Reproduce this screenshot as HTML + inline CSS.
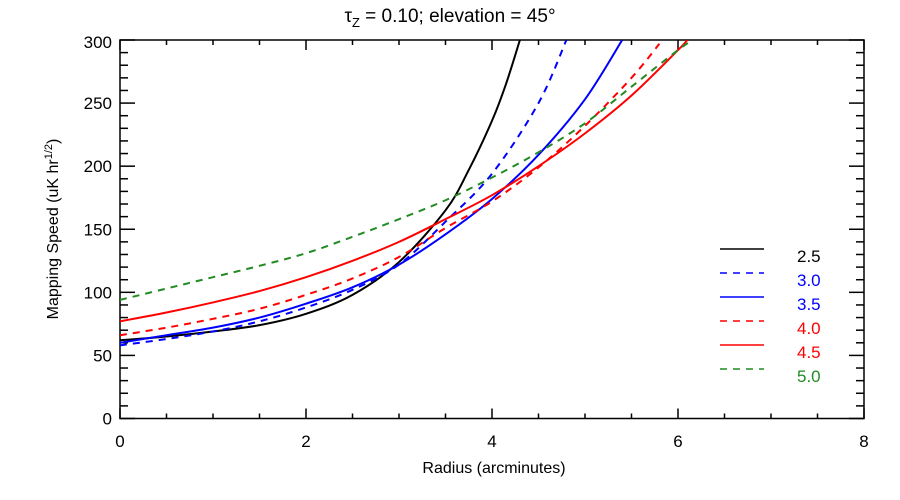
<!DOCTYPE html>
<html><head><meta charset="utf-8"><style>
body{margin:0;background:#fff;}
svg{display:block;font-family:"Liberation Sans","DejaVu Sans",sans-serif;}
</style></head><body>
<svg id="chart" width="900" height="500" viewBox="0 0 900 500">
<text x="450" y="22" text-anchor="middle" font-size="19">τ<tspan font-size="13" dy="5">Z</tspan><tspan dy="-5"> = 0.10; elevation = 45°</tspan></text>
<g id="axes"></g>
<g id="series"></g>
<g id="legend"></g>
<text x="494" y="473" text-anchor="middle" font-size="16">Radius (arcminutes)</text>
<text transform="translate(58,229) rotate(-90)" text-anchor="middle" font-size="16">Mapping Speed (uK hr<tspan font-size="11" dy="-6">1/2</tspan><tspan dy="6">)</tspan></text>
</svg>
<script>
const xTicks=[0,2,4,6,8];
const yTicks=[0,50,100,150,200,250,300];
const seriesNames=["2.5","3.0","3.5","4.0","4.5","5.0"];
const seriesColors=["#000000","#0000ff","#0000ff","#ff0000","#ff0000","#228b22"];
const seriesDashed=[false,true,false,true,false,true];
const x25=[0,0.5,1,1.5,2,2.5,3,3.5,3.75,4,4.15,4.3];
const y25=[62,65,69,74,83,98,124,165,197,236,265,300];
const x30=[0,0.5,1,1.5,2,2.5,3,3.5,4,4.5,4.8];
const y30=[58,63,69,77,88,102,122,156,194,250,300];
const x35=[0,0.5,1,1.5,2,2.5,3,3.5,4,4.5,5,5.4];
const y35=[60,66,72,80,91,104,122,146,174,209,253,300];
const x40=[0,0.5,1,1.5,2,2.5,3,3.5,4,4.5,5,5.5,5.8];
const y40=[66,72,79,87,98,111,128,151,172,199,232,270,297];
const x45=[0,0.5,1,1.5,2,2.5,3,3.5,4,4.5,5,5.5,6,6.1];
const y45=[77,84,92,101,112,125,140,158,177,200,226,256,292,300];
const x50=[0,0.5,1,1.5,2,2.5,3,3.5,4,4.5,5,5.5,6,6.16];
const y50=[94,103,112,121,131,144,158,173,191,211,234,263,292,300];
const allX=[x25,x30,x35,x40,x45,x50];
const allY=[y25,y30,y35,y40,y45,y50];

const L=120,R=864,T=40,B=418.5;
const sx=v=>L+(v-0)/(8-0)*(R-L);
const sy=v=>B-(v-0)/(300-0)*(B-T);
const NS="http://www.w3.org/2000/svg";
function mk(tag,attrs,parent){const e=document.createElementNS(NS,tag);for(const k in attrs)e.setAttribute(k,attrs[k]);parent.appendChild(e);return e;}
const axes=document.getElementById('axes');
const frame=mk('rect',{x:L,y:T,width:R-L,height:B-T,fill:'none',stroke:'#000','stroke-width':1.5},axes);


for(let v=0;v<=8.001;v+=0.5){
  const X=sx(v);const major=Math.abs(v-Math.round(v/2)*2)<1e-6;const len=major?10:5;
  const t1=mk('line',{x1:X,y1:B,x2:X,y2:B-len,stroke:'#000','stroke-width':1.5},axes);
  
  
  const t2=mk('line',{x1:X,y1:T,x2:X,y2:T+len,stroke:'#000','stroke-width':1.5},axes);
  
  
}
xTicks.forEach(v=>{
  const t=mk('text',{x:sx(v),y:447,'text-anchor':'middle','font-size':17},axes);t.textContent=v;
  
  
});
for(let v=0;v<=300;v+=10){
  const Y=sy(v);const major=v%50===0;const len=major?15:8;
  const t1=mk('line',{x1:L,y1:Y,x2:L+len,y2:Y,stroke:'#000','stroke-width':1.5},axes);
  
  
  const t2=mk('line',{x1:R,y1:Y,x2:R-len,y2:Y,stroke:'#000','stroke-width':1.5},axes);
  
  
}
yTicks.forEach(v=>{
  const Y=v===300?sy(v)+8:sy(v)+6;
  const t=mk('text',{x:112,y:Y,'text-anchor':'end','font-size':17},axes);t.textContent=v;
  
  
});
const sg=document.getElementById('series');
function pathFor(xs,ys){
  const p=xs.map((x,i)=>[sx(x),sy(ys[i])]);
  let d='M'+p[0][0]+','+p[0][1];
  for(let i=0;i<p.length-1;i++){
    const p0=p[i-1]||p[i],p1=p[i],p2=p[i+1],p3=p[i+2]||p[i+1];
    const c1=[p1[0]+(p2[0]-p0[0])/6,p1[1]+(p2[1]-p0[1])/6];
    const c2=[p2[0]-(p3[0]-p1[0])/6,p2[1]-(p3[1]-p1[1])/6];
    d+=' C'+c1[0]+','+c1[1]+' '+c2[0]+','+c2[1]+' '+p2[0]+','+p2[1];
  }
  return d;
}
const clip=mk('clipPath',{id:'pc'},sg);mk('rect',{x:L,y:T,width:R-L,height:B-T},clip);
seriesNames.forEach((n,i)=>{
  const a={d:pathFor(allX[i],allY[i]),fill:'none',stroke:seriesColors[i],'stroke-width':2,'clip-path':'url(#pc)'};
  if(seriesDashed[i])a['stroke-dasharray']='7,6';
  const e=mk('path',a,sg);
  
  
});
const lg=document.getElementById('legend');
seriesNames.forEach((n,i)=>{
  const Y=249+i*24;
  const a={x1:720,y1:Y,x2:764,y2:Y,stroke:seriesColors[i],'stroke-width':1.5};
  if(seriesDashed[i])a['stroke-dasharray']='7,6';
  const l=mk('line',a,lg);
  
  
  const t=mk('text',{x:797,y:Y+13,'font-size':17,fill:seriesColors[i]},lg);t.textContent=n;
  
  
});
</script>
</body></html>
